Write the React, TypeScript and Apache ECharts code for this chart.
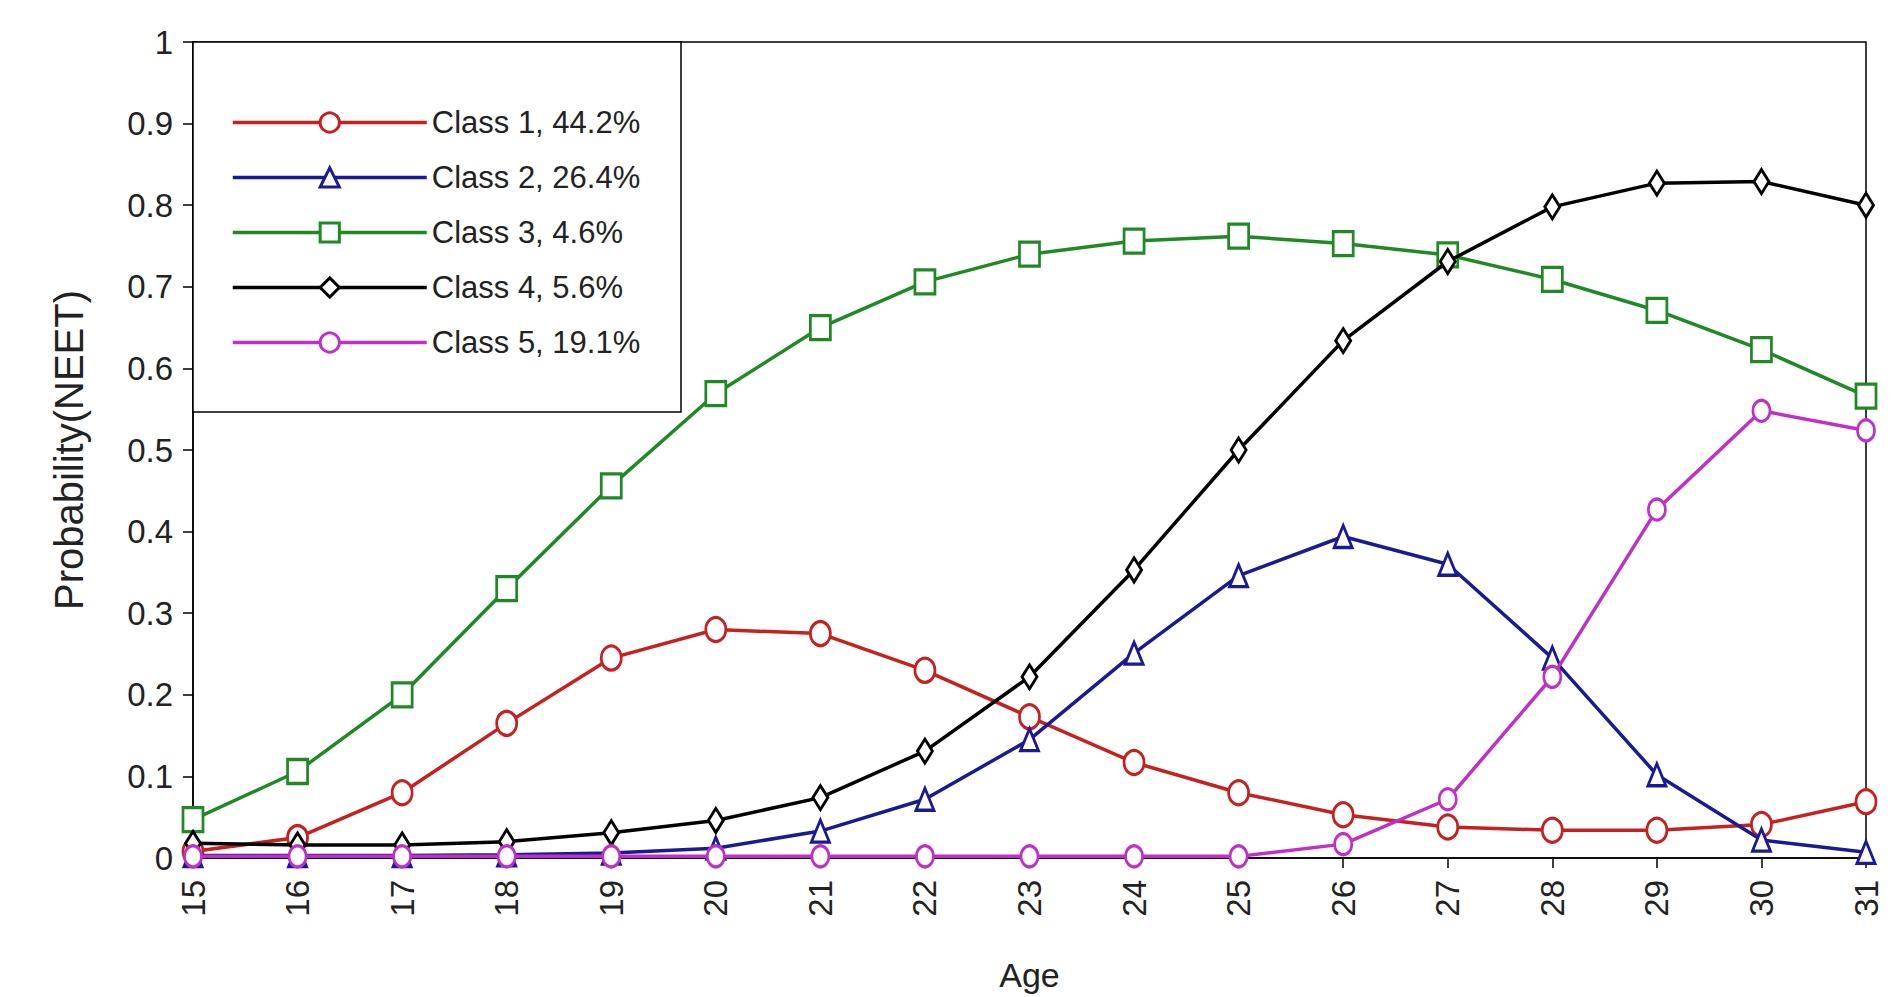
import React, { useEffect, useRef } from "react";
import * as echarts from "echarts";

const ages = [15, 16, 17, 18, 19, 20, 21, 22, 23, 24, 25, 26, 27, 28, 29, 30, 31];
const class1 = [0.008, 0.025, 0.08, 0.165, 0.245, 0.28, 0.275, 0.23, 0.173, 0.117, 0.08, 0.053, 0.038, 0.034, 0.034, 0.041, 0.069];
const class2 = [0.003, 0.003, 0.003, 0.004, 0.006, 0.012, 0.033, 0.072, 0.145, 0.251, 0.346, 0.394, 0.36, 0.245, 0.102, 0.022, 0.007];
const class3 = [0.047, 0.106, 0.2, 0.33, 0.456, 0.569, 0.65, 0.706, 0.74, 0.756, 0.762, 0.753, 0.739, 0.709, 0.671, 0.623, 0.566];
const class4 = [0.018, 0.016, 0.016, 0.02, 0.031, 0.046, 0.074, 0.131, 0.222, 0.353, 0.5, 0.634, 0.731, 0.798, 0.827, 0.829, 0.8];
const class5 = [0.002, 0.002, 0.002, 0.002, 0.002, 0.002, 0.002, 0.002, 0.002, 0.002, 0.002, 0.017, 0.072, 0.222, 0.427, 0.548, 0.524];
const seriesNames = ["Class 1, 44.2%", "Class 2, 26.4%", "Class 3, 4.6%", "Class 4, 5.6%", "Class 5, 19.1%"];
const seriesValues = [class1, class2, class3, class4, class5];
const seriesColors = ["#c8201e", "#1a1a96", "#1f8a24", "#000000", "#c030c8"];
const seriesSymbols = ["circle", "triangle", "rect", "diamond", "circle"];
const symbolSizes = [[20, 24], [18, 22], [20, 24], [15, 24], [17, 21]];

export default function App() {
  const ref = useRef<HTMLDivElement>(null);
  useEffect(() => {
    if (!ref.current) return;
    const chart = echarts.init(ref.current, undefined, { renderer: "svg" });
    const font = "'Liberation Sans', Arial, sans-serif";
    chart.setOption({
      animation: false,
      backgroundColor: "#fff",
      grid: {
        left: 193,
        right: 25,
        top: 42,
        bottom: 138,
        show: true,
        borderColor: "#000",
        borderWidth: 1.5,
        backgroundColor: "transparent",
      },
      legend: {
        orient: "vertical",
        left: 226,
        top: 102,
        itemWidth: 194,
        itemHeight: 24,
        itemGap: 24,
        data: seriesNames,
        lineStyle: { width: 3.5 },
        itemStyle: { borderWidth: 3 },
        textStyle: { fontFamily: font, fontSize: 31, color: "#222", padding: [0, 0, 0, 0] },
        z: 10,
      },
      graphic: [
        {
          type: "rect",
          shape: { x: 193, y: 42, width: 488, height: 370 },
          style: { fill: "#fff", stroke: "#000", lineWidth: 1.5 },
          z: 1,
        },
      ],
      xAxis: {
        type: "value",
        min: 15,
        max: 31,
        interval: 1,
        name: "Age",
        nameLocation: "middle",
        nameGap: 100,
        nameTextStyle: { fontFamily: font, fontSize: 34, color: "#222" },
        axisLine: { show: true, lineStyle: { color: "#000", width: 1.5 } },
        axisTick: { show: true, length: 10, lineStyle: { color: "#000", width: 1.5 } },
        axisLabel: { rotate: 90, margin: 22, fontFamily: font, fontSize: 33, color: "#222" },
        splitLine: { show: false },
      },
      yAxis: {
        type: "value",
        min: 0,
        max: 1,
        interval: 0.1,
        name: "Probability(NEET)",
        nameLocation: "middle",
        nameGap: 104,
        nameTextStyle: { fontFamily: font, fontSize: 40, color: "#222" },
        axisLine: { show: true, lineStyle: { color: "#000", width: 1.5 } },
        axisTick: { show: true, length: 10, lineStyle: { color: "#000", width: 1.5 } },
        axisLabel: { margin: 20, fontFamily: font, fontSize: 33, color: "#222" },
        splitLine: { show: false },
      },
      series: seriesValues.map((vals, i) => ({
        name: seriesNames[i],
        type: "line",
        data: ages.map((a, j) => [a, vals[j]]),
        symbol: seriesSymbols[i],
        symbolSize: symbolSizes[i],
        showAllSymbol: true,
        clip: true,
        lineStyle: { color: seriesColors[i], width: 3.5 },
        itemStyle: { color: "#fff", borderColor: seriesColors[i], borderWidth: 3 },
        z: 3 + i,
      })),
    });
    return () => chart.dispose();
  }, []);
  return <div ref={ref} style={{ position: "fixed", left: 0, top: 0, width: 1891, height: 997 }} />;
}
